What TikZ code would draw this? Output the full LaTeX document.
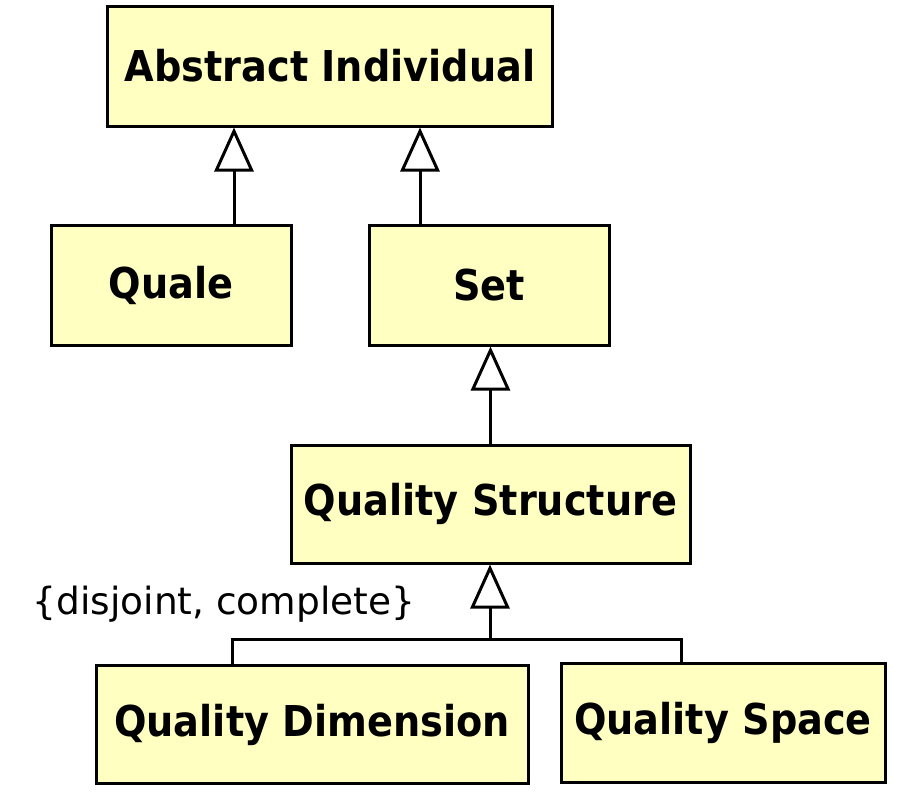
\documentclass[tikz,border=0pt]{standalone}
\usepackage{fontspec}
\setmainfont{DejaVu Sans}
\newfontfamily\boxfont{DejaVu Sans}[FakeStretch=0.9]
\usetikzlibrary{arrows.meta,calc}
\definecolor{boxfill}{HTML}{FFFFC2}
\begin{document}
\begin{tikzpicture}[x=1pt,y=-1pt,
  cls/.style={draw=black,line width=3pt,fill=boxfill,rectangle,inner sep=0pt,
    font=\boxfont\bfseries\fontsize{42.5}{50}\selectfont},
  gen/.style={line width=3pt,-{Triangle[fill=white,length=44pt,width=39pt,line width=3pt]}},
  plain/.style={line width=3pt}
]
\useasboundingbox (0,0) rectangle (897,798);
\node[cls,minimum width=445pt,minimum height=120pt] (AI) at (330,66) {Abstract Individual};
\node[cls,minimum width=240pt,minimum height=120pt] (Quale) at (171,285) {Quale};
\node[cls,minimum width=240pt,minimum height=120pt] (Set) at (489,285) {Set};
\node[cls,minimum width=399pt,minimum height=118pt] (QS) at (490.5,504) {Quality Structure};
\node[cls,minimum width=432pt,minimum height=118pt] (QD) at (312,724.5) {Quality Dimension};
\node[cls,minimum width=324pt,minimum height=119pt] (QSp) at (723,722.5) {Quality Space};
\node[font=\fontsize{37.5}{42}\selectfont] (lbl) at (224,604) {\{disjoint, complete\}};
\coordinate (j) at (490,639);
\draw[gen] ([xshift=63pt]Quale.north) -- ([xshift=63pt]Quale.north |- AI.south);
\draw[gen] ([xshift=-69pt]Set.north) -- ([xshift=-69pt]Set.north |- AI.south);
\draw[gen] (QS.north) -- (QS.north |- Set.south);
\draw[gen] (j) -- (j |- QS.south);
\draw[plain] ([xshift=-80pt]QD.north) |- (j) -| ([xshift=-42pt]QSp.north);
\end{tikzpicture}
\end{document}
